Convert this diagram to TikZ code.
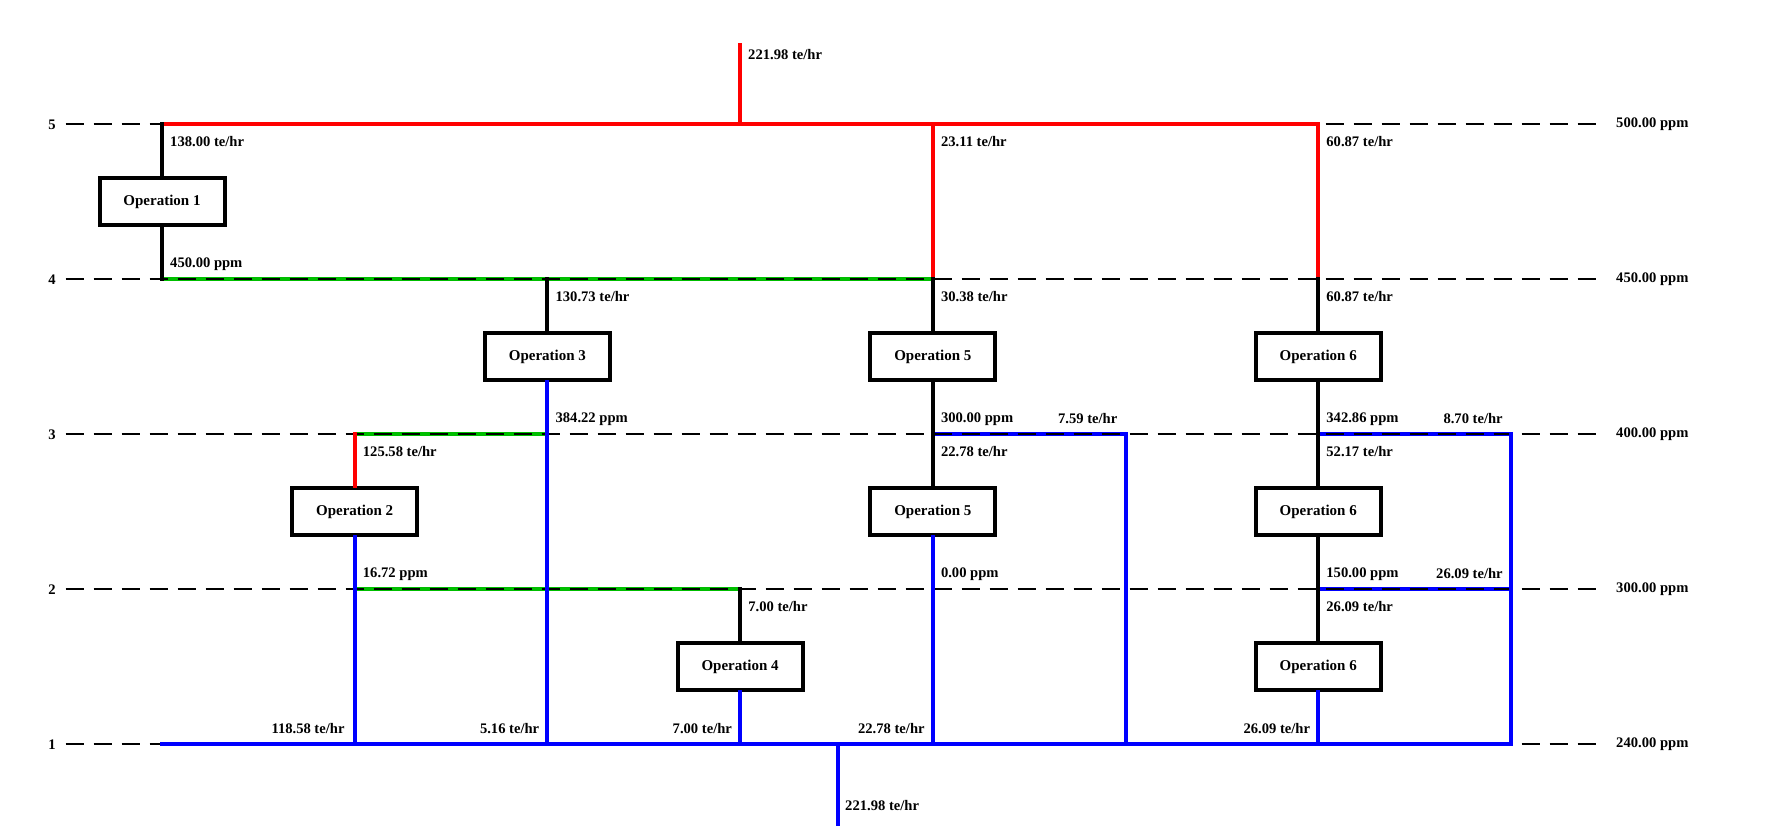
\documentclass[tikz,border=0pt]{standalone}
\usepackage{fontspec}
\setmainfont{Liberation Serif}
\definecolor{fred}{RGB}{255,0,0}
\definecolor{fblue}{RGB}{0,0,255}
\definecolor{fgreen}{RGB}{0,190,0}
\tikzset{
  lab/.style={inner sep=0pt, font=\fontsize{14.6}{17}\selectfont\bfseries},
  opbox/.style={draw=black, line width=4pt, fill=white, minimum width=125pt, minimum height=47pt, inner sep=0pt, font=\fontsize{15}{17}\selectfont\bfseries},
  pipe/.style={line width=4pt, line cap=rect},
  redpipe/.style={pipe, draw=fred},
  bluepipe/.style={pipe, draw=fblue},
  greenpipe/.style={pipe, draw=fgreen},
  blackpipe/.style={pipe, draw=black},
  grid/.style={draw=black, line width=1.8pt, dash pattern=on 18pt off 10pt},
}
\begin{document}
\begin{tikzpicture}[x=1pt,y=-1pt]
\useasboundingbox (0,0) rectangle (1778,840);
% columns
\def\ca{162}\def\cb{354.7}\def\cc{547.4}\def\cd{740.1}
\def\ce{932.8}\def\cf{1125.5}\def\cg{1318.2}\def\ch{1510.9}
% levels
\def\La{744.3}\def\Lb{589.3}\def\Lc{434.3}\def\Ld{279.3}\def\Le{124.3}
\def\ma{666.8}\def\mb{511.8}\def\mc{356.8}\def\md{201.8}
% junctions
\coordinate (feedtop) at (\cd,45);
\coordinate (outbot) at (837.5,824);
\coordinate (jout) at (837.5,\La);
\coordinate (j45) at (\cd,\Le);
\coordinate (j15) at (\ca,\Le);
\coordinate (j55) at (\ce,\Le);
\coordinate (j75) at (\cg,\Le);
\coordinate (j14) at (\ca,\Ld);
\coordinate (j34) at (\cc,\Ld);
\coordinate (j54) at (\ce,\Ld);
\coordinate (j74) at (\cg,\Ld);
\coordinate (j23) at (\cb,\Lc);
\coordinate (j33) at (\cc,\Lc);
\coordinate (j53) at (\ce,\Lc);
\coordinate (j63) at (\cf,\Lc);
\coordinate (j73) at (\cg,\Lc);
\coordinate (j83) at (\ch,\Lc);
\coordinate (j22) at (\cb,\Lb);
\coordinate (j42) at (\cd,\Lb);
\coordinate (j72) at (\cg,\Lb);
\coordinate (j82) at (\ch,\Lb);
\coordinate (j11) at (\ca,\La);
\coordinate (j21) at (\cb,\La);
\coordinate (j31) at (\cc,\La);
\coordinate (j41) at (\cd,\La);
\coordinate (j51) at (\ce,\La);
\coordinate (j61) at (\cf,\La);
\coordinate (j71) at (\cg,\La);
\coordinate (j81) at (\ch,\La);
% grid ends
\foreach \n/\y in {a/\La,b/\Lb,c/\Lc,d/\Ld,e/\Le}{
  \coordinate (gl\n) at (65.7,\y);
  \coordinate (gr\n) at (1603,\y);
}
% operation boxes
\node[opbox] (op1) at (\ca,\md) {Operation 1};
\node[opbox] (op3) at (\cc,\mc) {Operation 3};
\node[opbox] (op5a) at (\ce,\mc) {Operation 5};
\node[opbox] (op6a) at (\cg,\mc) {Operation 6};
\node[opbox] (op2) at (\cb,\mb) {Operation 2};
\node[opbox] (op5b) at (\ce,\mb) {Operation 5};
\node[opbox] (op6b) at (\cg,\mb) {Operation 6};
\node[opbox] (op4) at (\cd,\ma) {Operation 4};
\node[opbox] (op6c) at (\cg,\ma) {Operation 6};
% intermediate horizontals (under the grid)
\draw[greenpipe] (j14) -- (j54);
\draw[greenpipe] (j23) -- (j33);
\draw[greenpipe] (j22) -- (j42);
\draw[bluepipe] (j53) -- (j63);
\draw[bluepipe] (j73) -- (j83);
\draw[bluepipe] (j72) -- (j82);
% grid
\foreach \n in {a,b,c,d,e}{ \draw[grid] (gl\n) -- (gr\n); }
% red
\draw[redpipe] (feedtop) -- (j45);
\draw[redpipe] (j15) -- (j75);
\draw[redpipe] (j55) -- (j54);
\draw[redpipe] (j75) -- (j74);
\draw[redpipe] (j23) -- (op2);
% black
\draw[blackpipe] (j15) -- (op1);
\draw[blackpipe] (op1) -- (j14);
\draw[blackpipe] (j34) -- (op3);
\draw[blackpipe] (j54) -- (op5a);
\draw[blackpipe] (op5a) -- (op5b);
\draw[blackpipe] (j74) -- (op6a);
\draw[blackpipe] (op6a) -- (op6b);
\draw[blackpipe] (op6b) -- (op6c);
\draw[blackpipe] (j42) -- (op4);
% blue
\draw[bluepipe] (op3) -- (j31);
\draw[bluepipe] (op2) -- (j21);
\draw[bluepipe] (op4) -- (j41);
\draw[bluepipe] (op5b) -- (j51);
\draw[bluepipe] (op6c) -- (j71);
\draw[bluepipe] (j63) -- (j61);
\draw[bluepipe] (j83) -- (j81);
\draw[bluepipe] (j82) -- (j81);
\draw[bluepipe] (j11) -- (j81);
\draw[bluepipe] (jout) -- (outbot);
% level labels
\node[lab] (n5) at (52,\Le) {5};
\node[lab] (n4) at (52,\Ld) {4};
\node[lab] (n3) at (52,\Lc) {3};
\node[lab] (n2) at (52,\Lb) {2};
\node[lab] (n1) at (52,\La) {1};
\node[lab,anchor=west] (r5) at (1616,\Le) {500.00 ppm};
\node[lab,anchor=west] (r4) at (1616,\Ld) {450.00 ppm};
\node[lab,anchor=west] (r3) at (1616,\Lc) {400.00 ppm};
\node[lab,anchor=west] (r2) at (1616,\Lb) {300.00 ppm};
\node[lab,anchor=west] (r1) at (1616,\La) {240.00 ppm};
% flow labels
\node[lab,anchor=west] (tfeed) at (748,55) {221.98 te/hr};
\node[lab,anchor=west] (tout) at (845,806) {221.98 te/hr};
% below level 5
\node[lab,anchor=west] (t1) at (\ca+8,\Le+17) {138.00 te/hr};
\node[lab,anchor=west] (t2) at (\ce+8,\Le+17) {23.11 te/hr};
\node[lab,anchor=west] (t3) at (\cg+8,\Le+17) {60.87 te/hr};
% level 4
\node[lab,anchor=west] (t4) at (\ca+8,\Ld-15.5) {450.00 ppm};
\node[lab,anchor=west] (t5) at (\cc+8,\Ld+17) {130.73 te/hr};
\node[lab,anchor=west] (t6) at (\ce+8,\Ld+17) {30.38 te/hr};
\node[lab,anchor=west] (t7) at (\cg+8,\Ld+17) {60.87 te/hr};
% level 3
\node[lab,anchor=west] (t8) at (\cc+8,\Lc-15.5) {384.22 ppm};
\node[lab,anchor=west] (t9) at (\ce+8,\Lc-15.5) {300.00 ppm};
\node[lab,anchor=east] (t10) at (\cf-8,\Lc-15.5) {7.59 te/hr};
\node[lab,anchor=west] (t11) at (\cg+8,\Lc-15.5) {342.86 ppm};
\node[lab,anchor=east] (t12) at (\ch-8,\Lc-15.5) {8.70 te/hr};
\node[lab,anchor=west] (t13) at (\cb+8,\Lc+17) {125.58 te/hr};
\node[lab,anchor=west] (t14) at (\ce+8,\Lc+17) {22.78 te/hr};
\node[lab,anchor=west] (t15) at (\cg+8,\Lc+17) {52.17 te/hr};
% level 2
\node[lab,anchor=west] (t16) at (\cb+8,\Lb-15.5) {16.72 ppm};
\node[lab,anchor=west] (t17) at (\ce+8,\Lb-15.5) {0.00 ppm};
\node[lab,anchor=west] (t18) at (\cg+8,\Lb-15.5) {150.00 ppm};
\node[lab,anchor=east] (t19) at (\ch-8,\Lb-15.5) {26.09 te/hr};
\node[lab,anchor=west] (t20) at (\cd+8,\Lb+17) {7.00 te/hr};
\node[lab,anchor=west] (t21) at (\cg+8,\Lb+17) {26.09 te/hr};
% level 1
\node[lab,anchor=east] (t22) at (\cb-10,\La-15.5) {118.58 te/hr};
\node[lab,anchor=east] (t23) at (\cc-8,\La-15.5) {5.16 te/hr};
\node[lab,anchor=east] (t24) at (\cd-8,\La-15.5) {7.00 te/hr};
\node[lab,anchor=east] (t25) at (\ce-8,\La-15.5) {22.78 te/hr};
\node[lab,anchor=east] (t26) at (\cg-8,\La-15.5) {26.09 te/hr};
\end{tikzpicture}
\end{document}
